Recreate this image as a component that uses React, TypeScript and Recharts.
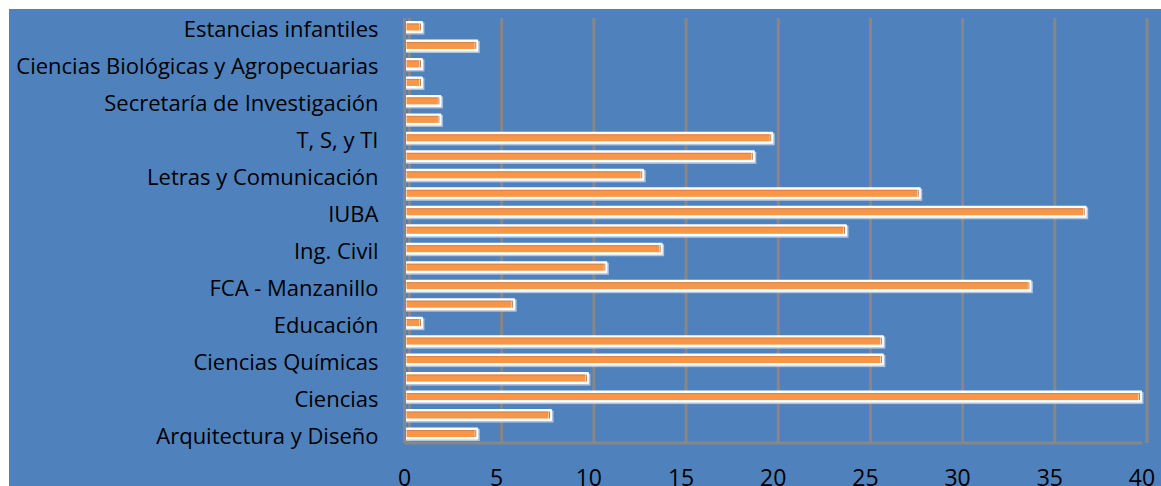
import React from "react";
import { BarChart, Bar, XAxis, YAxis, CartesianGrid } from "recharts";

if (typeof document !== "undefined") {
  document.body.style.margin = "0";
  document.body.style.overflow = "hidden";
}

// Categories from top to bottom ("" = label skipped on the axis in the original)
const categories: string[] = [
  "Estancias infantiles",
  "",
  "Ciencias Biológicas y Agropecuarias",
  "",
  "Secretaría de Investigación",
  "",
  "T, S, y TI",
  "",
  "Letras y Comunicación",
  "",
  "IUBA",
  "",
  "Ing. Civil",
  "",
  "FCA - Manzanillo",
  "",
  "Educación",
  "",
  "Ciencias Químicas",
  "",
  "Ciencias",
  "",
  "Arquitectura y Diseño",
];

const values: number[] = [
  1, 4, 1, 1, 2, 2, 20, 19, 13, 28, 37, 24, 14, 11, 34, 6, 1, 26, 26, 10, 40, 8, 4,
];

const xTicks: number[] = [0, 5, 10, 15, 20, 25, 30, 35, 40];

const data = categories.map((name, i) => ({ id: String(i), name, value: values[i] }));

const BarShape = (props: any) => {
  const { x, y, width, height } = props;
  if (width == null || width <= 0) return null;
  return (
    <g>
      <rect x={x + 1.5} y={y + 1.5} width={width} height={height} fill="#c9d6e8" opacity={0.8} />
      <rect x={x} y={y} width={width} height={height} fill="#ffffff" rx={1} />
      <rect x={x + 2} y={y + 2.5} width={Math.max(width - 5.5, 1)} height={height - 5} fill="#F79646" />
      <rect x={x + 2} y={y + 2.5} width={Math.max(width - 5.5, 1)} height={1} fill="#D9834A" />
      <line x1={x + width - 2.5} x2={x + width - 2.5} y1={y + 2.5} y2={y + height - 2.5} stroke="#B9805A" strokeWidth={1} />
    </g>
  );
};

const gridGen = (args: any) => {
  const xAxis = args?.xAxis;
  if (xAxis && typeof xAxis.scale === "function") {
    return xTicks.map((t) => xAxis.scale(t) + 5);
  }
  const off = args?.offset;
  return xTicks.map((t) => off.left + (off.width * t) / 40 + 5);
};

const YTick = (p: any) => {
  const label = categories[Number(p.payload?.value)] ?? "";
  return (
    <text
      x={p.x}
      y={p.y}
      dy={10}
      textAnchor="end"
      fill="#000000"
      fontSize={22}
      fontFamily="Open Sans"
    >
      {label}
    </text>
  );
};

export default function App() {
  return (
    <div
      style={{
        position: "absolute",
        left: 9,
        top: 9,
        width: 1152,
        height: 477,
        background: "#4F81BD",
        overflow: "hidden",
      }}
    >
      <BarChart
        width={1152}
        height={477}
        data={data}
        layout="vertical"
        margin={{ top: 9, right: 19, bottom: 13, left: 0 }}
        barCategoryGap={0}
      >
        <CartesianGrid
          horizontal={false}
          vertical={true}
          stroke="#878787"
          strokeWidth={3}
          verticalCoordinatesGenerator={gridGen}
        />
        <XAxis
          type="number"
          domain={[0, 40]}
          ticks={xTicks}
          interval={0}
          height={30}
          axisLine={{ stroke: "#878787", strokeWidth: 3 }}
          tickLine={false}
          tickSize={0}
          tickMargin={27}
          tick={{ fill: "#000000", fontSize: 23, fontFamily: "Open Sans" }}
        />
        <YAxis
          type="category"
          dataKey="id"
          width={395.5}
          interval={1}
          axisLine={{ stroke: "#878787", strokeWidth: 3 }}
          tickLine={false}
          tickSize={0}
          tickMargin={26}
          tick={<YTick />}
        />
        <Bar dataKey="value" barSize={12} shape={<BarShape />} isAnimationActive={false} />
      </BarChart>
    </div>
  );
}
